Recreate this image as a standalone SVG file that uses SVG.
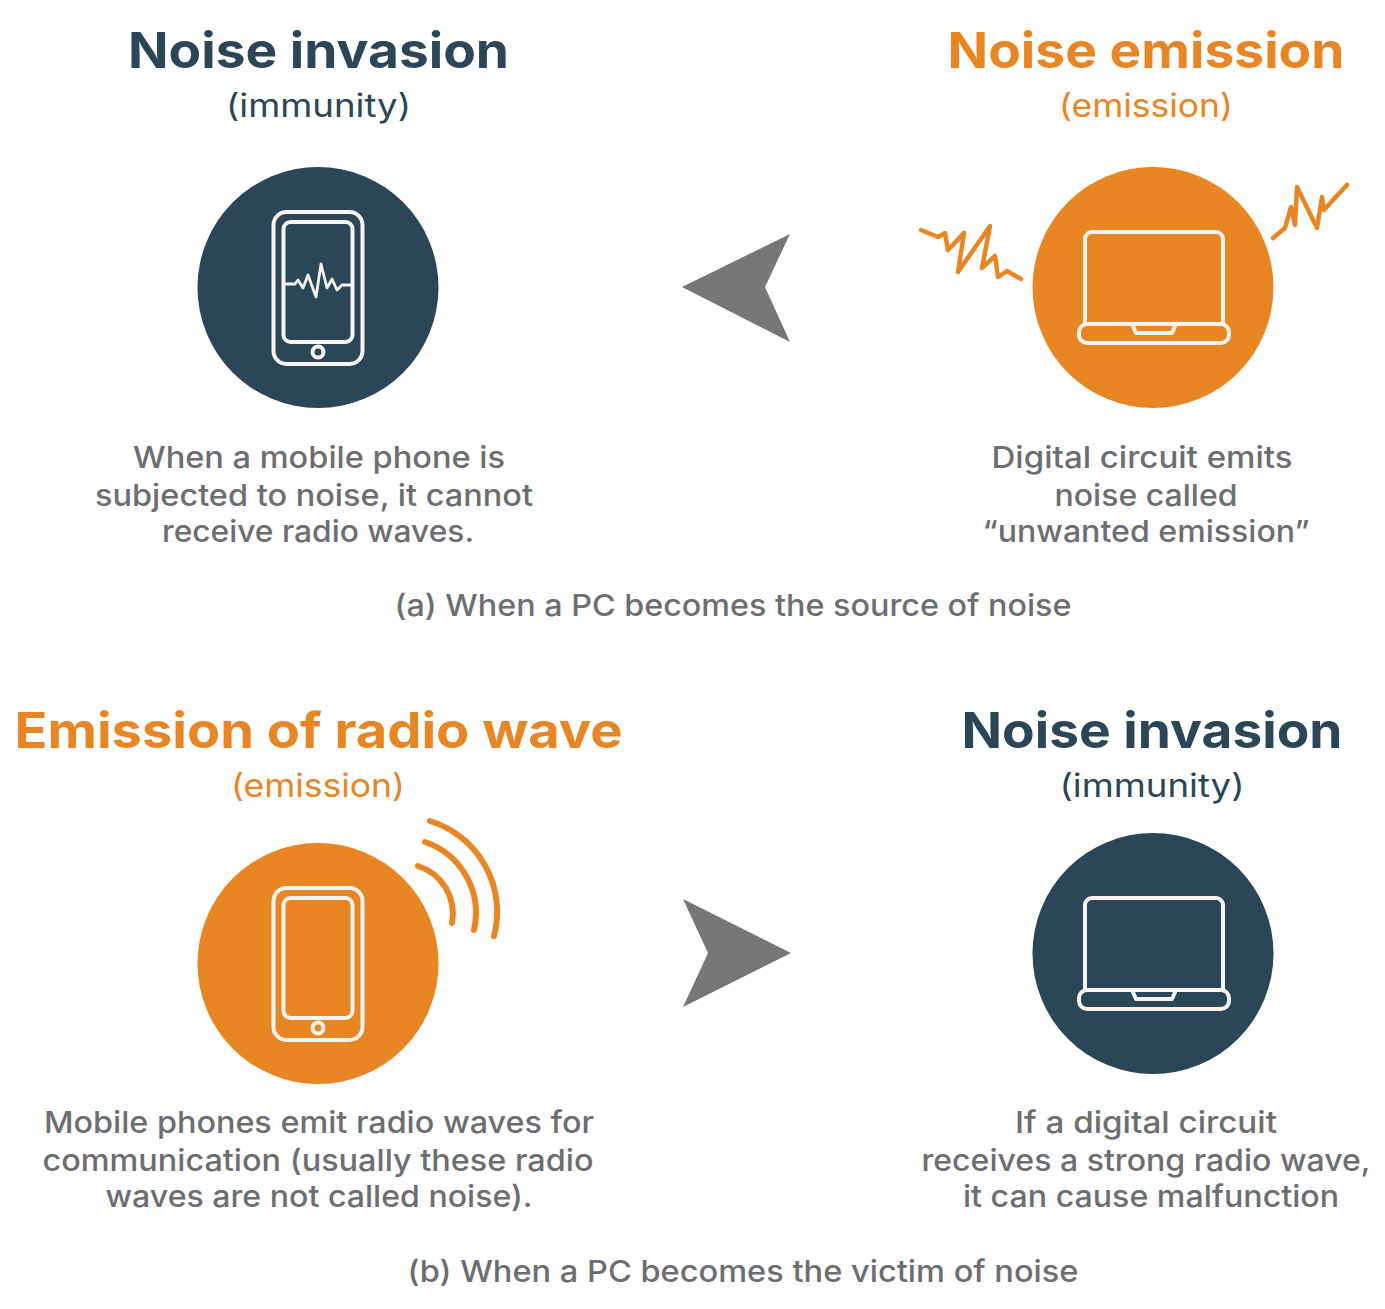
<svg xmlns="http://www.w3.org/2000/svg" xmlns:xlink="http://www.w3.org/1999/xlink" width="1385" height="1309" viewBox="0 0 1385 1309">
<style>
text{font-family:Inter,"Liberation Sans",sans-serif;text-anchor:middle}
.h{font-size:49px;font-weight:700}
.s{font-size:32px;font-weight:400}
.b{font-size:30px;font-weight:500;fill:#6d6e71}
.navy{fill:#2a4657}.org{fill:#e98624}
.ln{fill:none;stroke:#f8f3ee;stroke-width:4;stroke-linejoin:round}
.z{fill:none;stroke:#e98624;stroke-width:4.500;stroke-linejoin:round;stroke-linecap:round}
.arc{fill:none;stroke:#e98624;stroke-width:6;stroke-linecap:round}
.arrow{fill:#767778}
</style>
<defs>
<g id="phone"><rect class="ln" x="273.500" y="212" width="89" height="152" rx="13"/><rect class="ln" x="283.500" y="222" width="69" height="120" rx="7"/><circle class="ln" cx="318" cy="352" r="5.500"/></g>
<g id="laptop"><path class="ln" d="M1085 323V239a7 7 0 0 1 7-7H1216a7 7 0 0 1 7 7V323"/><rect class="ln" x="1079" y="324" width="150" height="19" rx="8"/><path class="ln" d="M1132 324L1136 333H1172L1176 324"/></g>
</defs>
<rect width="1385" height="1309" fill="#fefefe"/>
<g id="connectors">
<path class="arrow" d="M682 287L790 234L765 287L790 342Z"/>
<path class="arrow" d="M791 953L683 899L708 953L683 1007Z"/>
</g>
<g id="node-a-immunity">
<text class="h navy" x="318.500" y="68" textLength="381" lengthAdjust="spacingAndGlyphs">Noise invasion</text>
<text class="s navy" x="318.500" y="117" textLength="185" lengthAdjust="spacingAndGlyphs">(immunity)</text>
<circle class="navy" cx="318" cy="287.500" r="120.500"/>
<use xlink:href="#phone"/>
<path class="ln" style="stroke-width:2.800" d="M285 284H295L298 280L303 288L308 275L316 297L321 264L327 288L332 279L337 290L342 285H352"/>
<text class="b" x="319" y="468" textLength="372" lengthAdjust="spacingAndGlyphs">When a mobile phone is</text>
<text class="b" x="314" y="506" textLength="438" lengthAdjust="spacingAndGlyphs">subjected to noise, it cannot</text>
<text class="b" x="318" y="542" textLength="312" lengthAdjust="spacingAndGlyphs">receive radio waves.</text>
</g>
<g id="node-a-emission">
<text class="h org" x="1146" y="68" textLength="397" lengthAdjust="spacingAndGlyphs">Noise emission</text>
<text class="s org" x="1146" y="117" textLength="174" lengthAdjust="spacingAndGlyphs">(emission)</text>
<circle class="org" cx="1153" cy="287.500" r="120.500"/>
<use xlink:href="#laptop"/>
<path class="z" d="M921 230L938 237L945 233L948 250L964 233L958 272L990 226L982 268L995 256L998 277L1007 271L1021 279"/>
<path class="z" d="M1273 238L1285 228L1291 207L1295 225L1297 187L1317 228L1322 197L1324 210L1333 200L1347 185"/>
<text class="b" x="1142" y="468" textLength="301" lengthAdjust="spacingAndGlyphs">Digital circuit emits</text>
<text class="b" x="1146" y="506" textLength="183" lengthAdjust="spacingAndGlyphs">noise called</text>
<text class="b" x="1146" y="542" textLength="327" lengthAdjust="spacingAndGlyphs">“unwanted emission”</text>
</g>
<text id="caption-a" class="b" x="733" y="616" textLength="677" lengthAdjust="spacingAndGlyphs">(a) When a PC becomes the source of noise</text>
<g id="node-b-emission">
<text class="h org" x="318.500" y="748" textLength="608" lengthAdjust="spacingAndGlyphs">Emission of radio wave</text>
<text class="s org" x="318" y="797" textLength="174" lengthAdjust="spacingAndGlyphs">(emission)</text>
<circle class="org" cx="318" cy="963.500" r="120.500"/>
<use xlink:href="#phone" y="676"/>
<path class="arc" d="M430 821A95 95 0 0 1 494 936"/>
<path class="arc" d="M425 842A75 75 0 0 1 474 930"/>
<path class="arc" d="M418 866A50 50 0 0 1 452 923"/>
<text class="b" x="319" y="1133" textLength="550" lengthAdjust="spacingAndGlyphs">Mobile phones emit radio waves for</text>
<text class="b" x="318" y="1170.500" textLength="551" lengthAdjust="spacingAndGlyphs">communication (usually these radio</text>
<text class="b" x="319" y="1207" textLength="427" lengthAdjust="spacingAndGlyphs">waves are not called noise).</text>
</g>
<g id="node-b-immunity">
<text class="h navy" x="1152" y="748" textLength="381" lengthAdjust="spacingAndGlyphs">Noise invasion</text>
<text class="s navy" x="1152" y="797" textLength="185" lengthAdjust="spacingAndGlyphs">(immunity)</text>
<circle class="navy" cx="1153" cy="953.500" r="120.500"/>
<use xlink:href="#laptop" y="666"/>
<text class="b" x="1146" y="1133" textLength="262" lengthAdjust="spacingAndGlyphs">If a digital circuit</text>
<text class="b" x="1146" y="1170.500" textLength="449" lengthAdjust="spacingAndGlyphs">receives a strong radio wave,</text>
<text class="b" x="1151" y="1207" textLength="376" lengthAdjust="spacingAndGlyphs">it can cause malfunction</text>
</g>
<text id="caption-b" class="b" x="743" y="1282" textLength="671" lengthAdjust="spacingAndGlyphs">(b) When a PC becomes the victim of noise</text>
</svg>
